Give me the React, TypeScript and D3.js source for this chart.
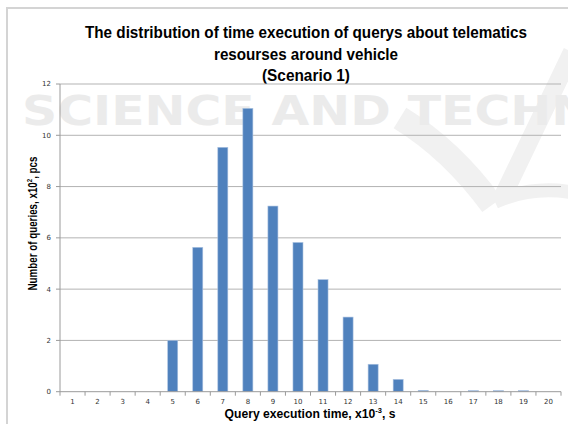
import React from "react";
import * as d3 from "d3";

const categories = ["1","2","3","4","5","6","7","8","9","10","11","12","13","14","15","16","17","18","19","20"];
const values = [0, 0, 0, 0, 2.0, 5.63, 9.53, 11.05, 7.24, 5.82, 4.37, 2.91, 1.07, 0.48, 0.05, 0, 0.04, 0.04, 0.04, 0];
const yTicks = [0, 2, 4, 6, 8, 10, 12];
const titleLines = [
  "The distribution of time execution of querys about telematics",
  "resourses around vehicle",
  "(Scenario 1)",
];

const W = 568, H = 424;
const M = { left: 60, right: 561, top: 84, bottom: 391.7 };

export default function App() {
  const x = d3.scaleBand<string>().domain(categories).range([M.left, M.right]).paddingInner(0.6).paddingOuter(0.3);
  const step = (M.right - M.left) / categories.length;
  const y = d3.scaleLinear().domain([0, 12]).range([M.bottom, M.top]);
  const font = "'Liberation Sans', Arial, sans-serif";
  const boundaries = d3.range(categories.length + 1).map((i) => M.left + i * step);

  return (
    <svg width={W} height={H} style={{ position: "absolute", left: 0, top: 0, display: "block", background: "#fff" }}>
      <rect x={0} y={0} width={W} height={H} fill="#fff" />
      {/* watermark */}
      <g fill="none" stroke="#f1f1f1" strokeLinecap="butt">
        <path d="M400,118 Q452,150 492,205" strokeWidth={24} />
        <path d="M502,198 L572,52" strokeWidth={18} />
        <path d="M495,202 Q530,186 570,192" strokeWidth={14} />
      </g>
      <g fill="#ebebeb">
        <text x={22} y={125} fontFamily="'DejaVu Sans', sans-serif" fontWeight="bold" fontSize={40} textLength={570} lengthAdjust="spacingAndGlyphs">SCIENCE AND TECHN</text>
      </g>
      {/* chart frame */}
      <path d={`M7,${H} L7,8 L${W},8`} fill="none" stroke="#d4d4d4" strokeWidth={2} />
      {/* title */}
      <g fontFamily={font} fontWeight="bold" fontSize={16} textAnchor="middle" fill="#000">
        <text x={306} y={38} textLength={442} lengthAdjust="spacingAndGlyphs">{titleLines[0]}</text>
        <text x={306} y={60} textLength={184} lengthAdjust="spacingAndGlyphs">{titleLines[1]}</text>
        <text x={306} y={81} textLength={88} lengthAdjust="spacingAndGlyphs">{titleLines[2]}</text>
      </g>
      {/* gridlines */}
      {yTicks.filter((t) => t > 0).map((t) => (
        <line key={t} x1={M.left} x2={M.right} y1={y(t)} y2={y(t)} stroke="#b3b3b3" strokeWidth={1} />
      ))}
      {/* y ticks */}
      {yTicks.map((t) => (
        <g key={"yt" + t}>
          <line x1={56} x2={M.left} y1={y(t)} y2={y(t)} stroke="#9a9a9a" />
          <text x={51} y={y(t)} dy="0.35em" textAnchor="end" fontSize={7} fontFamily="'DejaVu Sans', sans-serif" fill="#333">{t}</text>
        </g>
      ))}
      {/* bars */}
      {values.map((v, i) => (
        <rect key={i} x={x(categories[i])} width={x.bandwidth()} y={y(v)} height={M.bottom - y(v)}
          fill="#4f81bd" stroke="#a9c1e0" strokeWidth={0.6} />
      ))}
      {/* axes */}
      <line x1={M.left} x2={M.left} y1={M.top} y2={M.bottom} stroke="#9a9a9a" />
      <line x1={M.left} x2={M.right} y1={M.bottom} y2={M.bottom} stroke="#9a9a9a" />
      {boundaries.map((b, i) => (
        <line key={"xb" + i} x1={b} x2={b} y1={M.bottom} y2={M.bottom + 4} stroke="#9a9a9a" />
      ))}
      {categories.map((c) => (
        <text key={"xt" + c} x={(x(c) as number) + x.bandwidth() / 2} y={404} textAnchor="middle" fontSize={7}
          fontFamily="'DejaVu Sans', sans-serif" fill="#333">{c}</text>
      ))}
      {/* axis titles */}
      <text transform="translate(37,223.5) rotate(-90)" textAnchor="middle" fontFamily={font} fontWeight="bold" fontSize={13} fill="#000" textLength={134} lengthAdjust="spacingAndGlyphs">
        Number of queries, x10<tspan dy={-5} fontSize={8}>2</tspan><tspan dy={5}>, pcs</tspan>
      </text>
      <text x={310} y={418} textAnchor="middle" fontFamily={font} fontWeight="bold" fontSize={13} fill="#000" textLength={171} lengthAdjust="spacingAndGlyphs">
        Query execution time, x10<tspan dy={-5} fontSize={8}>-3</tspan><tspan dy={5}>, s</tspan>
      </text>
    </svg>
  );
}
